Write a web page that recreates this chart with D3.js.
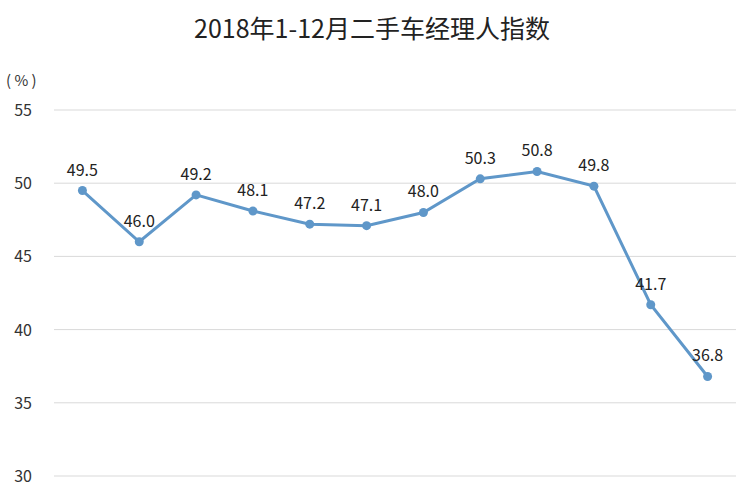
<!DOCTYPE html>
<html lang="zh">
<head>
<meta charset="UTF-8">
<title>二手车经理人指数</title>
<script src="https://cdn.jsdelivr.net/npm/d3@7/dist/d3.min.js"></script>
<style>
  body { margin: 0; background: #fff; }
  text { font-family: "Noto Sans CJK SC", "Open Sans", sans-serif; }
</style>
</head>
<body>
<script>
// data
var months = ["1月","2月","3月","4月","5月","6月","7月","8月","9月","10月","11月","12月"];
var values = [49.5, 46.0, 49.2, 48.1, 47.2, 47.1, 48.0, 50.3, 50.8, 49.8, 41.7, 36.8];
var yTicks = [30, 35, 40, 45, 50, 55];

var w = 744, h = 490;
var svg = d3.select("body").append("svg").attr("width", w).attr("height", h);

var x = d3.scaleBand().domain(months).range([54, 736]);
var y = d3.scaleLinear().domain([30, 55]).range([476, 110]);

// title
svg.append("text").attr("x", 372).attr("y", 38).attr("text-anchor", "middle")
  .attr("font-size", 25).attr("fill", "#222").text("2018年1-12月二手车经理人指数");
svg.append("text").attr("x", 6).attr("y", 86).attr("font-size", 15).attr("fill", "#333").text("( % )");

// grid
svg.selectAll("line.grid").data(yTicks).enter().append("line")
  .attr("x1", 54).attr("x2", 736)
  .attr("y1", function(d) { return y(d); }).attr("y2", function(d) { return y(d); })
  .attr("stroke", "#d9d9d9").attr("stroke-width", 1);

svg.selectAll("text.tick").data(yTicks).enter().append("text")
  .attr("x", 32).attr("y", function(d) { return y(d) + 6; })
  .attr("text-anchor", "end").attr("font-size", 16).attr("fill", "#333")
  .text(function(d) { return d; });

var cx = function(d, i) { return x(months[i]) + x.bandwidth() / 2; };

svg.append("path").datum(values)
  .attr("d", d3.line().x(cx).y(function(d) { return y(d); }))
  .attr("fill", "none").attr("stroke", "#5f97c9").attr("stroke-width", 3);

svg.selectAll("circle").data(values).enter().append("circle")
  .attr("cx", cx).attr("cy", function(d) { return y(d); })
  .attr("r", 4.5).attr("fill", "#5f97c9");

svg.selectAll("text.lbl").data(values).enter().append("text")
  .attr("x", cx).attr("y", function(d) { return y(d) - 15; })
  .attr("text-anchor", "middle").attr("font-size", 16).attr("fill", "#222")
  .text(function(d) { return d.toFixed(1); });
</script>
</body>
</html>
